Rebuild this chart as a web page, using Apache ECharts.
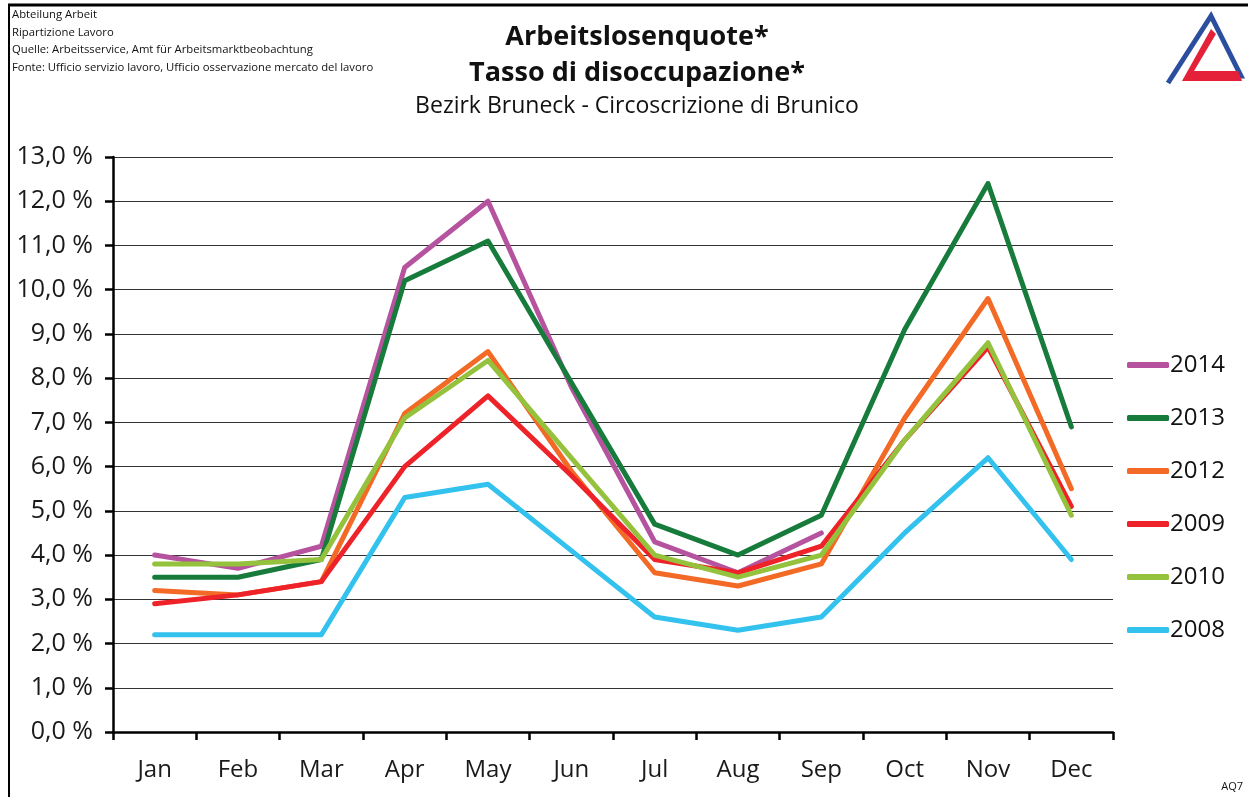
<!DOCTYPE html>
<html>
<head>
	<meta charset="utf-8">
	<title>Arbeitslosenquote Bruneck</title>
	<script src="https://cdn.jsdelivr.net/npm/echarts@6.0.0/dist/echarts.min.js"></script>
	<style>
		html, body { margin: 0; padding: 0; background: #fff; }
		#main { width: 1248px; height: 797px; }
	</style>
</head>
<body>
	<div id="main"></div>
	<script>
		// Monate
		var months = ['Jan', 'Feb', 'Mar', 'Apr', 'May', 'Jun', 'Jul', 'Aug', 'Sep', 'Oct', 'Nov', 'Dec'];
		var yTicks = [0, 1, 2, 3, 4, 5, 6, 7, 8, 9, 10, 11, 12, 13];

		// Quoten in %
		var q2014 = [4.0, 3.7, 4.2, 10.5, 12.0, 7.8, 4.3, 3.6, 4.5, null, null, null];
		var q2013 = [3.5, 3.5, 3.9, 10.2, 11.1, 7.9, 4.7, 4.0, 4.9, 9.1, 12.4, 6.9];
		var q2012 = [3.2, 3.1, 3.4, 7.2, 8.6, 5.9, 3.6, 3.3, 3.8, 7.1, 9.8, 5.5];
		var q2009 = [2.9, 3.1, 3.4, 6.0, 7.6, 5.8, 3.9, 3.6, 4.2, 6.6, 8.7, 5.1];
		var q2010 = [3.8, 3.8, 3.9, 7.1, 8.4, 6.2, 4.0, 3.5, 4.0, 6.6, 8.8, 4.9];
		var q2008 = [2.2, 2.2, 2.2, 5.3, 5.6, 4.1, 2.6, 2.3, 2.6, 4.5, 6.2, 3.9];

		var years = ['2014', '2013', '2012', '2009', '2010', '2008'];
		var values = [q2014, q2013, q2012, q2009, q2010, q2008];
		var colors = ['#b5539e', '#177b3c', '#f26a25', '#ee2229', '#94c23c', '#33c1ee'];

		var font = '"Open Sans", "DejaVu Sans", sans-serif';
		var myChart = echarts.init(document.getElementById('main'));

		var series = [];
		for (var i = 0; i < years.length; i++) {
			series.push({
				name: years[i],
				type: 'line',
				data: values[i],
				showSymbol: false,
				symbol: 'none',
				connectNulls: false,
				lineStyle: { color: colors[i], width: 5, cap: 'round', join: 'round' },
				itemStyle: { color: colors[i] }
			});
		}

		var option = {
			backgroundColor: '#fff',
			animation: false,
			textStyle: { fontFamily: font },
			grid: { left: 113, right: 135, top: 157, bottom: 65 },
			legend: {
				orient: 'vertical',
				left: 1122,
				top: 345,
				icon: 'roundRect',
				itemWidth: 42,
				itemHeight: 6,
				itemGap: 23,
				data: years,
				textStyle: { fontSize: 24, color: '#111', fontFamily: font, lineHeight: 30, padding: [0, 0, 0, -4] }
			},
			xAxis: {
				type: 'category',
				data: months,
				boundaryGap: true,
				axisLine: { lineStyle: { color: '#000', width: 2.5 } },
				axisTick: { show: true, length: 8, lineStyle: { color: '#000', width: 2.5 } },
				axisLabel: { fontSize: 24, color: '#1a1a1a', margin: 26, fontFamily: font }
			},
			yAxis: {
				type: 'value',
				min: yTicks[0],
				max: yTicks[yTicks.length - 1],
				interval: 1,
				axisLine: { show: true, lineStyle: { color: '#000', width: 2.5 } },
				axisTick: { show: true, length: 8, lineStyle: { color: '#000', width: 2.5 } },
				splitLine: { lineStyle: { color: '#333', width: 1 } },
				axisLabel: {
					fontSize: 25,
					color: '#1a1a1a',
					margin: 20,
					fontFamily: font,
					formatter: function (v) { return v.toFixed(1).replace('.', ',') + ' %'; }
				}
			},
			graphic: [
				// Rahmen
				{ type: 'line', shape: { x1: 8, y1: 5, x2: 1248, y2: 5 }, style: { stroke: '#000', lineWidth: 3 } },
				{ type: 'line', shape: { x1: 9, y1: 5, x2: 9, y2: 797 }, style: { stroke: '#000', lineWidth: 2 } },
				// Kopfzeilen links
				{ type: 'text', left: 12, top: 9, style: { text: 'Abteilung Arbeit', font: '11.3px ' + font, fill: '#111' } },
				{ type: 'text', left: 12, top: 27, style: { text: 'Ripartizione Lavoro', font: '11.3px ' + font, fill: '#111' } },
				{ type: 'text', left: 12, top: 44, style: { text: 'Quelle: Arbeitsservice, Amt für Arbeitsmarktbeobachtung', font: '11.3px ' + font, fill: '#111' } },
				{ type: 'text', left: 12, top: 62, style: { text: 'Fonte: Ufficio servizio lavoro, Ufficio osservazione mercato del lavoro', font: '11.3px ' + font, fill: '#111' } },
				// Titel
				{ type: 'text', x: 637, y: 37, style: { text: 'Arbeitslosenquote*', font: 'bold 27px ' + font, fill: '#111', align: 'center', verticalAlign: 'middle' } },
				{ type: 'text', x: 637, y: 73, style: { text: 'Tasso di disoccupazione*', font: 'bold 27px ' + font, fill: '#111', align: 'center', verticalAlign: 'middle' } },
				{ type: 'text', x: 637, y: 106, style: { text: 'Bezirk Bruneck - Circoscrizione di Brunico', font: '23px ' + font, fill: '#111', align: 'center', verticalAlign: 'middle' } },
				{ type: 'text', x: 1243, y: 787, style: { text: 'AQ7', font: '11px ' + font, fill: '#111', align: 'right', verticalAlign: 'middle' } },
				// Logo
				{ type: 'polyline', shape: { points: [[1168, 83], [1211, 16], [1241, 76], [1196, 76]] }, style: { stroke: '#2b4f9e', lineWidth: 5, fill: null, lineJoin: 'miter' } },
				{ type: 'polygon', shape: { points: [[1211, 29], [1216, 34], [1194, 71], [1238, 71], [1242, 81], [1182, 81]] }, style: { fill: '#e5213a' } }
			],
			series: series
		};

		myChart.setOption(option);
	</script>
</body>
</html>
